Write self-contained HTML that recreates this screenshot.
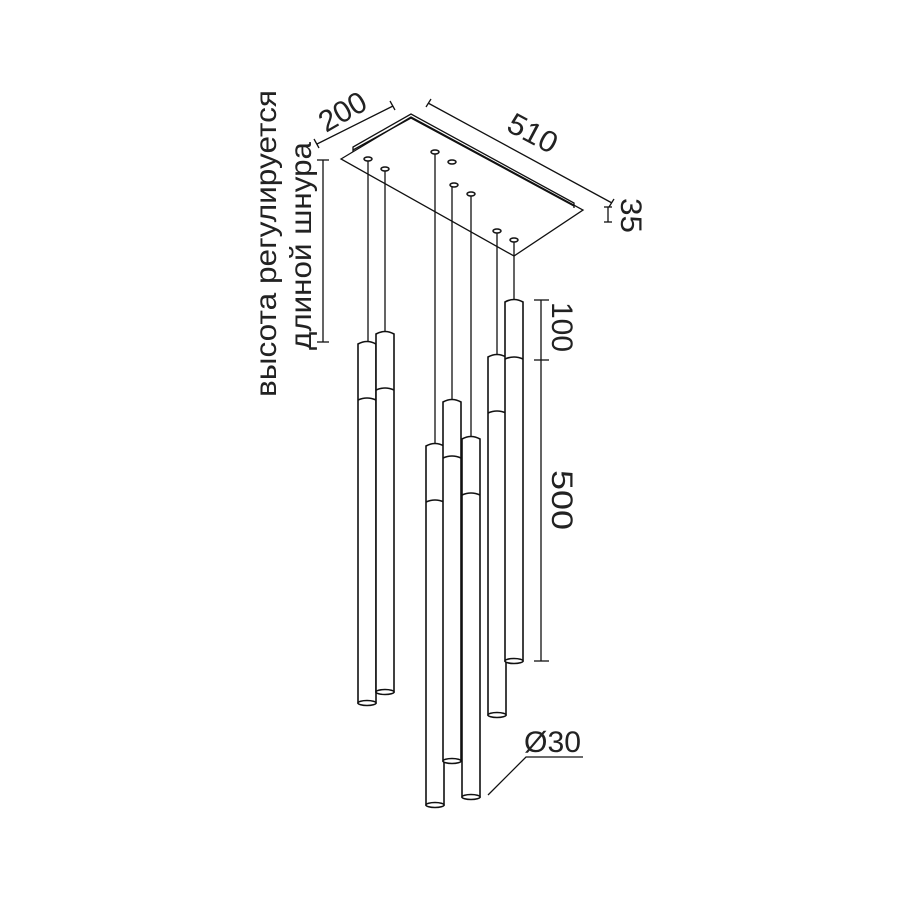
<!DOCTYPE html>
<html><head><meta charset="utf-8"><style>html,body{margin:0;padding:0;background:#fff}svg{display:block}</style></head>
<body>
<svg width="900" height="900" viewBox="0 0 900 900" xmlns="http://www.w3.org/2000/svg" font-family="Liberation Sans, sans-serif" fill="#222">
<g stroke="#111" fill="none" stroke-width="1.3">
<!-- plate -->
<polygon points="341,159 411,117 583,210 514,256" fill="#fff"/>
<polyline points="353,152 353,147 411,114 574,203 574,208" stroke-width="1.3"/>
<polyline points="353,150 411,118 574,206" stroke-width="1.3"/>
<!-- holes -->
<g fill="#fff" stroke-width="1.5">
<ellipse cx="368" cy="159" rx="4" ry="2"/><ellipse cx="385" cy="169" rx="4" ry="2"/>
<ellipse cx="435" cy="152" rx="4" ry="2"/><ellipse cx="452" cy="162" rx="4" ry="2"/>
<ellipse cx="454" cy="185" rx="4" ry="2"/><ellipse cx="471" cy="194" rx="4" ry="2"/>
<ellipse cx="497" cy="231" rx="4" ry="2"/><ellipse cx="514" cy="240" rx="4" ry="2"/>
</g>
<!-- cords -->
<line x1="368" y1="161" x2="368" y2="342"/><line x1="385" y1="171" x2="385" y2="332"/>
<line x1="435" y1="154" x2="435" y2="444"/><line x1="452" y1="187" x2="452" y2="400"/>
<line x1="471" y1="196" x2="471" y2="437"/><line x1="497" y1="233" x2="497" y2="355"/>
<line x1="514" y1="242" x2="514" y2="300"/>
<!-- tubes -->
<g stroke-width="1.6" fill="#fff">
<path d="M358,344 Q367,339 376,344 L376,703 L358,703 Z"/><path d="M358,400 Q367,396 376,400"/><ellipse cx="367" cy="703" rx="9" ry="2.5"/>
<path d="M376,334 Q385,329 394,334 L394,692 L376,692 Z"/><path d="M376,390 Q385,386 394,390"/><ellipse cx="385" cy="692" rx="9" ry="2.5"/>
<path d="M426,446 Q435,441 444,446 L444,805 L426,805 Z"/><path d="M426,502 Q435,498 444,502"/><ellipse cx="435" cy="805" rx="9" ry="2.5"/>
<path d="M443,402 Q452,397 461,402 L461,761 L443,761 Z"/><path d="M443,458 Q452,454 461,458"/><ellipse cx="452" cy="761" rx="9" ry="2.5"/>
<path d="M462,439 Q471,434 480,439 L480,797 L462,797 Z"/><path d="M462,495 Q471,491 480,495"/><ellipse cx="471" cy="797" rx="9" ry="2.5"/>
<path d="M488,357 Q497,352 506,357 L506,715 L488,715 Z"/><path d="M488,413 Q497,409 506,413"/><ellipse cx="497" cy="715" rx="9" ry="2.5"/>
<path d="M505,302 Q514,297 523,302 L523,661 L505,661 Z"/><path d="M505,359 Q514,355 523,359"/><ellipse cx="514" cy="661" rx="9" ry="2.5"/>
</g>
<!-- dims -->
<line x1="541" y1="300" x2="541" y2="661"/>
<line x1="534" y1="300" x2="549" y2="300"/><line x1="534" y1="360" x2="549" y2="360"/><line x1="534" y1="661" x2="549" y2="661"/>
<line x1="323" y1="160" x2="323" y2="342"/>
<line x1="317" y1="160" x2="329" y2="160"/><line x1="317" y1="342" x2="329" y2="342"/>
<line x1="608" y1="207" x2="608" y2="222"/><line x1="604" y1="207" x2="612" y2="207"/><line x1="604" y1="222" x2="612" y2="222"/>
<line x1="317" y1="144" x2="393" y2="106"/><line x1="314" y1="139" x2="319" y2="148"/><line x1="390" y1="101" x2="395" y2="110"/>
<line x1="428" y1="103" x2="612" y2="203"/><line x1="426" y1="107" x2="431" y2="99"/><line x1="609" y1="207" x2="614" y2="199"/>
<polyline points="488,795 526,757 583,757"/>
</g>
<g font-size="30">
<text transform="translate(276,397) rotate(-90)" textLength="307" lengthAdjust="spacingAndGlyphs">высота регулируется</text>
<text transform="translate(311,350) rotate(-90)" textLength="208" lengthAdjust="spacingAndGlyphs">длиной шнура</text>
<text transform="translate(552,302) rotate(90)" textLength="50" lengthAdjust="spacingAndGlyphs">100</text>
<text transform="translate(552,470) rotate(90)" textLength="60" lengthAdjust="spacingAndGlyphs">500</text>
<text transform="translate(621,198) rotate(90)" textLength="35" lengthAdjust="spacingAndGlyphs">35</text>
<text transform="translate(326,133) rotate(-30)" textLength="50" lengthAdjust="spacingAndGlyphs">200</text>
<text transform="translate(505,130) rotate(28)" textLength="52" lengthAdjust="spacingAndGlyphs">510</text>
<text x="524" y="752" textLength="57" lengthAdjust="spacingAndGlyphs">Ø30</text>
</g>
</svg>
</body></html>
